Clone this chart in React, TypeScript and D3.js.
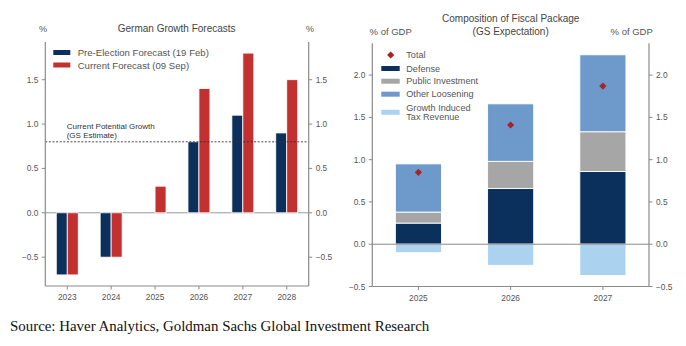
import React from "react";
import * as d3 from "d3";

const years1 = ["2023", "2024", "2025", "2026", "2027", "2028"];
const preElection = [-0.7, -0.5, 0, 0.8, 1.1, 0.9];
const current = [-0.7, -0.5, 0.3, 1.4, 1.8, 1.5];
const potentialGrowth = 0.8;
const ticks1 = [-0.5, 0, 0.5, 1.0, 1.5];

const years2 = ["2025", "2026", "2027"];
const defense = [0.25, 0.66, 0.86];
const publicInvestment = [0.13, 0.32, 0.47];
const otherLoosening = [0.57, 0.68, 0.91];
const taxRevenue = [-0.1, -0.25, -0.37];
const totals = [0.85, 1.41, 1.87];
const ticks2 = [-0.5, 0, 0.5, 1.0, 1.5, 2.0];

const C = {
  navy: "#0c305c",
  red: "#c33030",
  gray: "#a6a6a6",
  other: "#6e9acb",
  light: "#abd3f0",
  diamond: "#a82328",
  axis: "#8a8a8a",
  text: "#555",
  title: "#444",
};
const FONT = "Liberation Sans, Arial, sans-serif";
const fmt = (t: number) => (t < 0 ? "\u2212" + Math.abs(t).toFixed(1) : t.toFixed(1));

export default function App() {
  const L = { l: 45.3, r: 308.7, t: 42, b: 286 };
  const x1 = d3.scaleLinear().domain([-0.5, 5.5]).range([L.l, L.r]);
  const y1 = d3.scaleLinear().domain([-0.825, 1.925]).range([L.b, L.t]);
  const bw1 = x1(0.25) - x1(0);

  const R = { l: 372.3, r: 649, t: 43.3, b: 286.5 };
  const x2 = d3.scaleLinear().domain([-0.5, 2.5]).range([R.l, R.r]);
  const y2 = d3.scaleLinear().domain([-0.5, 2.376]).range([R.b, R.t]);
  const bw2 = x2(0.5) - x2(0);

  const stacks = years2.map((_, i) => {
    const d1 = defense[i];
    const p1 = d1 + publicInvestment[i];
    const o1 = p1 + otherLoosening[i];
    return [
      { y0: 0, y1: d1, c: C.navy },
      { y0: d1, y1: p1, c: C.gray },
      { y0: p1, y1: o1, c: C.other },
      { y0: taxRevenue[i], y1: 0, c: C.light },
    ];
  });

  const tickLen = 3.5;
  const diamondPath = d3.symbol().type(d3.symbolSquare).size(26)() || "";

  return (
    <svg width={686} height={346} style={{ display: "block", position: "absolute", left: 0, top: 0, background: "#fff" }} fontFamily={FONT}>
      <rect width={686} height={346} fill="#fff" />
      {/* ---------- LEFT CHART ---------- */}
      <text x={176.7} y={32} textAnchor="middle" fontSize={10} fill={C.title}>German Growth Forecasts</text>
      <text x={43} y={32} textAnchor="middle" fontSize={9} fill={C.text}>%</text>
      <text x={310} y={32} textAnchor="middle" fontSize={9} fill={C.text}>%</text>

      <line x1={L.l} x2={L.r} y1={y1(0)} y2={y1(0)} stroke="#999" strokeWidth={1} />

      {years1.map((yr, i) => (
        <g key={yr}>
          {preElection[i] !== 0 && (
            <rect x={x1(i - 0.125) - bw1 / 2} width={bw1}
              y={Math.min(y1(preElection[i]), y1(0))} height={Math.abs(y1(preElection[i]) - y1(0))}
              fill={C.navy} stroke="#fff" strokeWidth={0.8} />
          )}
          <rect x={x1(i + 0.125) - bw1 / 2} width={bw1}
            y={Math.min(y1(current[i]), y1(0))} height={Math.abs(y1(current[i]) - y1(0))}
            fill={C.red} stroke="#fff" strokeWidth={0.8} />
        </g>
      ))}

      <line x1={L.l} x2={L.r} y1={y1(potentialGrowth)} y2={y1(potentialGrowth)} stroke="#333" strokeWidth={0.9} strokeDasharray="2,1.6" />
      <text x={66.7} y={129} fontSize={8} fill="#333">Current Potential Growth</text>
      <text x={66.7} y={137.5} fontSize={8} fill="#333">(GS Estimate)</text>

      <line x1={L.l} x2={L.l} y1={L.t} y2={L.b} stroke={C.axis} strokeWidth={1.2} />
      <line x1={L.r} x2={L.r} y1={L.t} y2={L.b} stroke={C.axis} strokeWidth={1.2} />
      <line x1={L.l} x2={L.r} y1={L.b} y2={L.b} stroke={C.axis} strokeWidth={1.2} />

      {ticks1.map((t) => (
        <g key={t}>
          <line x1={L.l - tickLen} x2={L.l} y1={y1(t)} y2={y1(t)} stroke={C.axis} strokeWidth={1} />
          <line x1={L.r} x2={L.r + tickLen} y1={y1(t)} y2={y1(t)} stroke={C.axis} strokeWidth={1} />
          <text x={L.l - 7} y={y1(t) + 3} textAnchor="end" fontSize={8.3} fill={C.text}>{fmt(t)}</text>
          <text x={L.r + 7} y={y1(t) + 3} textAnchor="start" fontSize={8.3} fill={C.text}>{fmt(t)}</text>
        </g>
      ))}
      {years1.map((yr, i) => (
        <g key={yr}>
          <line x1={x1(i)} x2={x1(i)} y1={L.b} y2={L.b + tickLen} stroke={C.axis} strokeWidth={1} />
          <text x={x1(i)} y={L.b + 14} textAnchor="middle" fontSize={8.4} fill={C.text}>{yr}</text>
        </g>
      ))}

      <rect x={53.3} y={50} width={17} height={5} fill={C.navy} />
      <text x={77.7} y={56} fontSize={9.6} fill={C.text}>Pre-Election Forecast (19 Feb)</text>
      <rect x={53.3} y={62.5} width={17} height={5} fill={C.red} />
      <text x={77.7} y={68.5} fontSize={9.6} fill={C.text}>Current Forecast (09 Sep)</text>

      {/* ---------- RIGHT CHART ---------- */}
      <text x={510.7} y={22} textAnchor="middle" fontSize={10} fill={C.title}>Composition of Fiscal Package</text>
      <text x={510.7} y={34.5} textAnchor="middle" fontSize={10} fill={C.title}>(GS Expectation)</text>
      <text x={390.7} y={34.5} textAnchor="middle" fontSize={9.5} fill={C.text}>% of GDP</text>
      <text x={631.7} y={34.5} textAnchor="middle" fontSize={9.5} fill={C.text}>% of GDP</text>

      {stacks.map((segs, i) => (
        <g key={years2[i]}>
          {segs.map((s, j) => (
            <rect key={j} x={x2(i) - bw2 / 2} width={bw2} y={y2(s.y1)} height={y2(s.y0) - y2(s.y1)}
              fill={s.c} stroke="#fff" strokeWidth={0.9} />
          ))}
        </g>
      ))}
      <line x1={R.l} x2={R.r} y1={y2(0)} y2={y2(0)} stroke="#8a8a8a" strokeWidth={1} />
      {totals.map((t, i) => (
        <path key={i} d={diamondPath} transform={`translate(${x2(i)},${y2(t)}) rotate(45)`} fill={C.diamond} />
      ))}

      <line x1={R.l} x2={R.l} y1={R.t} y2={R.b} stroke={C.axis} strokeWidth={1.2} />
      <line x1={R.r} x2={R.r} y1={R.t} y2={R.b} stroke={C.axis} strokeWidth={1.2} />
      <line x1={R.l} x2={R.r} y1={R.b} y2={R.b} stroke={C.axis} strokeWidth={1.2} />

      {ticks2.map((t) => (
        <g key={t}>
          <line x1={R.l - tickLen} x2={R.l} y1={y2(t)} y2={y2(t)} stroke={C.axis} strokeWidth={1} />
          <line x1={R.r} x2={R.r + tickLen} y1={y2(t)} y2={y2(t)} stroke={C.axis} strokeWidth={1} />
          <text x={R.l - 7} y={y2(t) + 3} textAnchor="end" fontSize={8.3} fill={C.text}>{fmt(t)}</text>
          <text x={R.r + 7} y={y2(t) + 3} textAnchor="start" fontSize={8.3} fill={C.text}>{fmt(t)}</text>
        </g>
      ))}
      {years2.map((yr, i) => (
        <g key={yr}>
          <line x1={x2(i)} x2={x2(i)} y1={R.b} y2={R.b + tickLen} stroke={C.axis} strokeWidth={1} />
          <text x={x2(i)} y={R.b + 14} textAnchor="middle" fontSize={8.4} fill={C.text}>{yr}</text>
        </g>
      ))}

      <path d={diamondPath} transform={`translate(390.7,55) rotate(45)`} fill={C.diamond} />
      <text x={406.3} y={58.3} fontSize={9.1} fill={C.text}>Total</text>
      <rect x={381.3} y={66} width={18.4} height={5} fill={C.navy} />
      <text x={406.3} y={71.6} fontSize={9.1} fill={C.text}>Defense</text>
      <rect x={381.3} y={78.7} width={18.4} height={5} fill={C.gray} />
      <text x={406.3} y={84.3} fontSize={9.1} fill={C.text}>Public Investment</text>
      <rect x={381.3} y={91.7} width={18.4} height={5} fill={C.other} />
      <text x={406.3} y={97.3} fontSize={9.1} fill={C.text}>Other Loosening</text>
      <rect x={381.3} y={109.8} width={18.4} height={5} fill={C.light} />
      <text x={406.3} y={110.5} fontSize={9.1} fill={C.text}>Growth Induced</text>
      <text x={406.3} y={120} fontSize={9.1} fill={C.text}>Tax Revenue</text>

      <text x={10} y={330.5} fontFamily="Liberation Serif, Times New Roman, serif" fontSize={14.9} fill="#111">Source: Haver Analytics, Goldman Sachs Global Investment Research</text>
    </svg>
  );
}
